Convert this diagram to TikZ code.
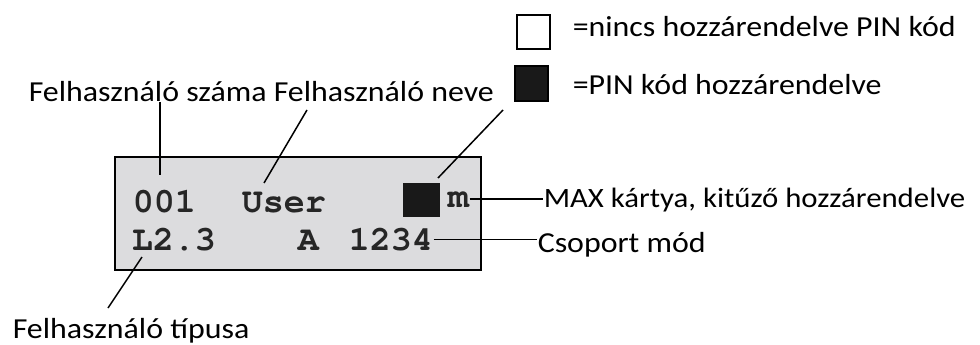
\documentclass[tikz,border=0pt]{standalone}
\usepackage{fontspec}
\setmainfont{Carlito}[FakeStretch=1.1]
\definecolor{lcdgray}{HTML}{DCDCDE}

\begin{document}
\begin{tikzpicture}[x=1pt,y=-1pt,line width=1.5pt,
  lcd/.style={inner sep=0pt,anchor=base west,text=black!85,
    font=\fontencoding{OT1}\fontfamily{pcr}\fontseries{b}\fontsize{35}{35}\selectfont},
  lbl/.style={inner sep=0pt,anchor=base west,font=\fontsize{29}{29}\selectfont},
  key/.style={draw,line width=2pt,inner sep=0pt,minimum width=33pt,minimum height=34pt}]
  \useasboundingbox (0,0) rectangle (980,345);
  % Legend.
  \node[key,fill=white] (wbox) at (533.5,32.5) {};
  \node[key,fill=black!90] (kbox) at (531.5,83.5) {};
  \node[lbl] (wtxt) at (572,37) {=nincs hozzárendelve PIN kód};
  \node[lbl] (ktxt) at (572,94) {=PIN kód hozzárendelve};
  % Display.
  \node[draw,line width=2.5pt,fill=lcdgray,minimum width=366pt,minimum height=113pt]
    (disp) at (298,213.5) {};
  \node[lcd] (num) at (132,212) {001};
  \node[lcd] (name) at (241,212) {User};
  \node[fill=black!90,inner sep=0pt,minimum width=37pt,minimum height=34pt] (pin) at (421.5,200) {};
  \node[lcd] (max) at (447,207) {m};
  \node[lcd] (type) at (131,250) {L2.3};
  \node[lcd] (grpa) at (297,250) {A};
  \node[lcd] (grp) at (348,250) {1234};
  % Labels.
  \node[lbl] (lnum) at (28,101) {Felhasználó száma};
  \node[lbl] (lname) at (273,101) {Felhasználó neve};
  \node[lbl,font=\fontsize{28}{28}\selectfont] (lmax) at (543,207) {MAX kártya, kitűző hozzárendelve};
  \node[lbl] (lgrp) at (537,252) {Csoport mód};
  \node[lbl] (ltype) at (12,338) {Felhasználó típusa};
  % Connectors.
  \coordinate (numtip) at (160,175);
  \coordinate (nametop) at (307,110);
  \coordinate (nametip) at (264,183);
  \coordinate (pintop) at (503,110);
  \coordinate (pintip) at (438,178);
  \coordinate (typetip) at (142,257);
  \coordinate (typeend) at (108,308);
  \draw (lnum.south -| numtip) -- (numtip);
  \draw (nametop) -- (nametip);
  \draw (pintop) -- (pintip);
  \draw (max.east) -- (max.east -| lmax.west);
  \draw (grp.east) -- (grp.east -| lgrp.west);
  \draw (typetip) -- (typeend);
\end{tikzpicture}
\end{document}
